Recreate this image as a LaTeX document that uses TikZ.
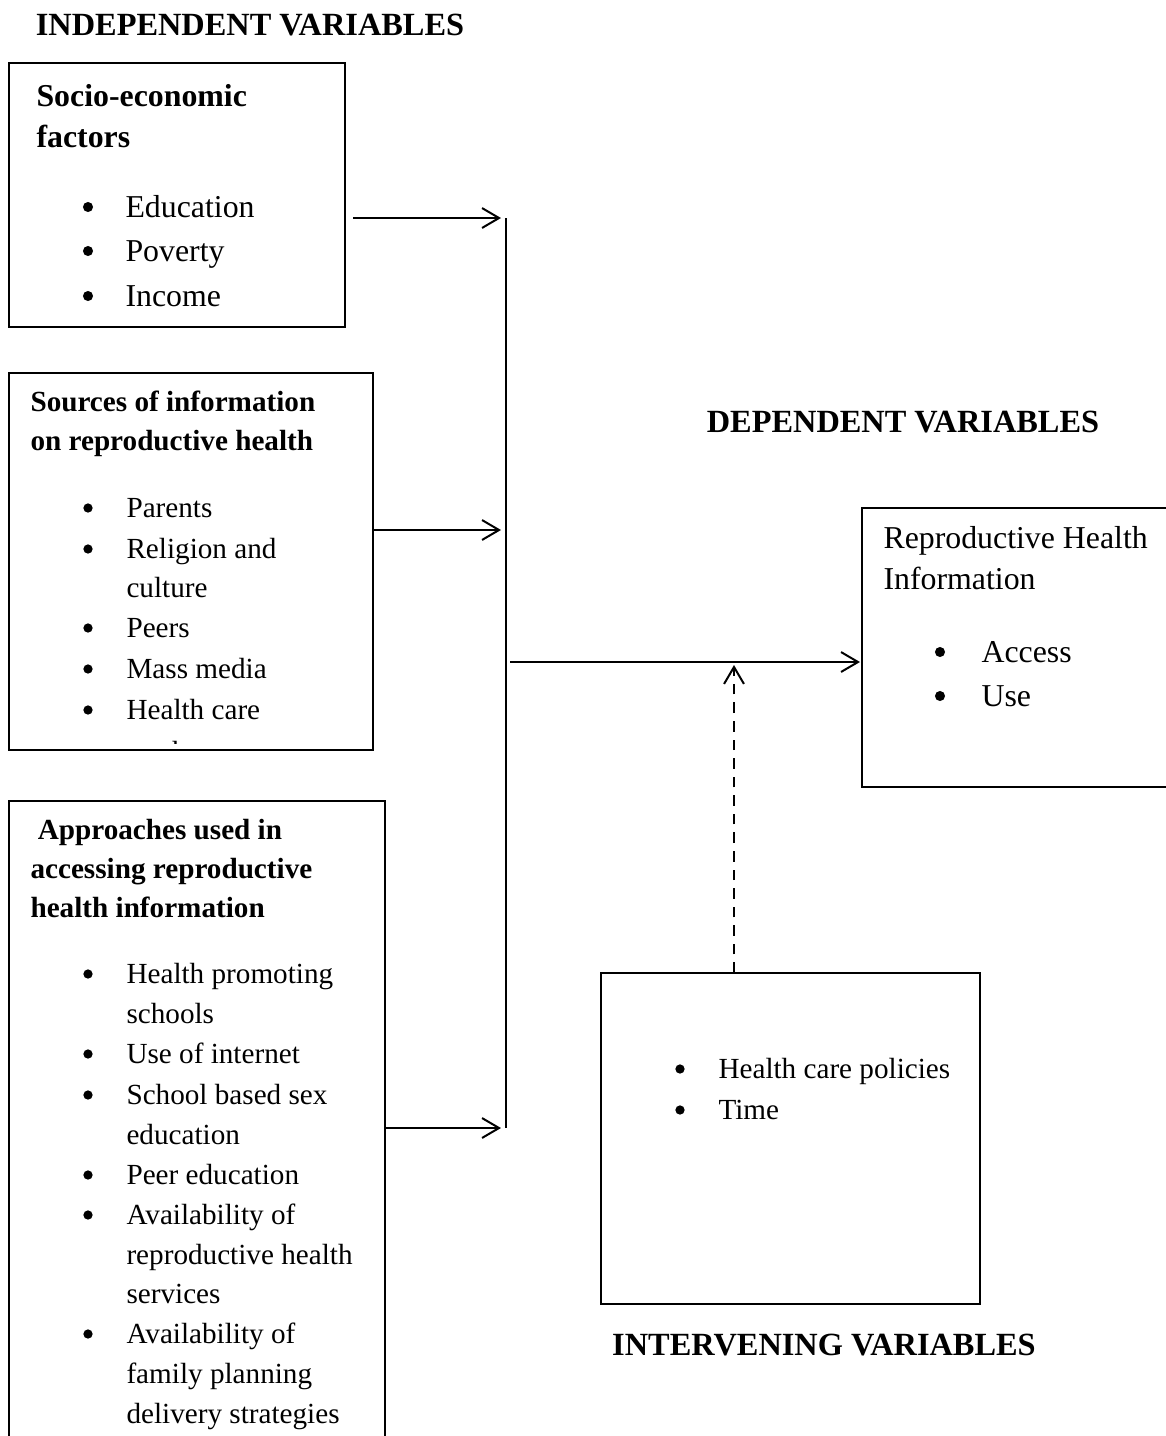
\documentclass[tikz,border=0pt]{standalone}
\usepackage{fontspec}
\setmainfont{Liberation Serif}
\usetikzlibrary{arrows.meta,fit}
\tikzset{
  box/.style={draw, line width=0.75pt, inner sep=0pt},
  tx/.style={anchor=base west, inner sep=0pt, font=\fontsize{11}{13}\selectfont},
  txl/.style={anchor=base west, inner sep=0pt, font=\fontsize{12}{14}\selectfont},
  hd/.style={anchor=base west, inner sep=0pt, font=\fontsize{11}{13}\selectfont\bfseries},
  hdl/.style={anchor=base west, inner sep=0pt, font=\fontsize{12}{14}\selectfont\bfseries},
  ttl/.style={anchor=base, inner sep=0pt, font=\fontsize{12.2}{14}\selectfont\bfseries},
  bul/.style={circle, fill, inner sep=0pt, minimum size=3.5pt},
  bull/.style={circle, fill, inner sep=0pt, minimum size=3.8pt},
  arr/.style={-{Straight Barb[length=6.4pt,width=7.5pt]}, line width=0.75pt},
  bus/.style={line width=0.75pt},
  dsh/.style={-{Straight Barb[length=6.4pt,width=7.5pt]}, line width=0.75pt, dash pattern=on 4pt off 3pt}
}
\begin{document}
\begin{tikzpicture}[x=0.377pt,y=-0.377pt]
\clip (0,0) rectangle (1166,1436);
\fill[white] (0,0) rectangle (1166,1436);

% titles
\node[ttl] (tind) at (250,35) {INDEPENDENT VARIABLES};
\node[ttl] (tdep) at (903,432) {DEPENDENT VARIABLES};
\node[ttl] (tint) at (824,1355) {INTERVENING VARIABLES};

% boxes
\node[box, fit={(9,63)(345,327)}] (b1) {};
\node[box, fit={(9,373)(373,750)}] (b2) {};
\node[box, fit={(9,801)(385,1470)}] (b3) {};
\node[box, fit={(862,508)(1200,787)}] (b5) {};
\node[box, fit={(601,973)(980,1304)}] (b4) {};

% box 1
\node[hdl] (h1a) at (36,106) {Socio-economic};
\node[hdl] (h1b) at (36,147) {factors};
\node[bull] (p1a) at (88,207) {}; \node[txl] (i1a) at (125,217) {Education};
\node[bull] (p1b) at (88,251) {}; \node[txl] (i1b) at (125,261) {Poverty};
\node[bull] (p1c) at (88,296) {}; \node[txl] (i1c) at (125,306) {Income};

% box 2
\node[hd] (h2a) at (30,411) {Sources of information};
\node[hd] (h2b) at (30,450) {on reproductive health};
\node[bul] (p2a) at (88,508) {}; \node[tx] (i2a) at (126,517) {Parents};
\node[bul] (p2b) at (88,549) {}; \node[tx] (i2b) at (126,558) {Religion and};
\node[tx] (i2c) at (126,597) {culture};
\node[bul] (p2d) at (88,628) {}; \node[tx] (i2d) at (126,637) {Peers};
\node[bul] (p2e) at (88,669) {}; \node[tx] (i2e) at (126,678) {Mass media};
\node[bul] (p2f) at (88,710) {}; \node[tx] (i2f) at (126,719) {Health care};
\begin{scope}
\clip (10,374) rectangle (372,743);
\node[tx] (i2g) at (126,761) {workers};
\end{scope}

% box 3
\node[hd] (h3a) at (30,839) {\ Approaches used in};
\node[hd] (h3b) at (30,878) {accessing reproductive};
\node[hd] (h3c) at (30,917) {health information};
\node[bul] (p3a) at (88,974) {}; \node[tx] (i3a) at (126,983) {Health promoting};
\node[tx] (i3b) at (126,1023) {schools};
\node[bul] (p3c) at (88,1054) {}; \node[tx] (i3c) at (126,1063) {Use of internet};
\node[bul] (p3d) at (88,1095) {}; \node[tx] (i3d) at (126,1104) {School based sex};
\node[tx] (i3e) at (126,1144) {education};
\node[bul] (p3f) at (88,1175) {}; \node[tx] (i3f) at (126,1184) {Peer education};
\node[bul] (p3g) at (88,1215) {}; \node[tx] (i3g) at (126,1224) {Availability of};
\node[tx] (i3h) at (126,1264) {reproductive health};
\node[tx] (i3i) at (126,1303) {services};
\node[bul] (p3j) at (88,1334) {}; \node[tx] (i3j) at (126,1343) {Availability of};
\node[tx] (i3k) at (126,1383) {family planning};
\node[tx] (i3l) at (126,1423) {delivery strategies};

% right box
\node[txl] (r1) at (883,548) {Reproductive Health};
\node[txl] (r2) at (883,589) {Information};
\node[bull] (p5a) at (940,652) {}; \node[txl] (r3) at (981,662) {Access};
\node[bull] (p5b) at (940,696) {}; \node[txl] (r4) at (981,706) {Use};

% box 4
\node[bul] (p4a) at (680,1069) {}; \node[tx] (i4a) at (718,1078) {Health care policies};
\node[bul] (p4b) at (680,1110) {}; \node[tx] (i4b) at (718,1119) {Time};

% connectors
\coordinate (bt) at (506,218);
\coordinate (bb) at (506,1128);
\coordinate (s1) at (353,218); \coordinate (e1) at (501,218);
\coordinate (s2) at (373,530); \coordinate (e2) at (501,530);
\coordinate (s3) at (385,1128); \coordinate (e3) at (501,1128);
\coordinate (sm) at (510,662); \coordinate (em) at (860,662);
\coordinate (sd) at (734,973); \coordinate (ed) at (734,665);
\draw[bus] (bt) -- (bb);
\draw[arr] (s1) -- (e1);
\draw[arr] (s2) -- (e2);
\draw[arr] (s3) -- (e3);
\draw[arr] (sm) -- (em);
\draw[dsh] (sd) -- (ed);
\end{tikzpicture}
\end{document}
